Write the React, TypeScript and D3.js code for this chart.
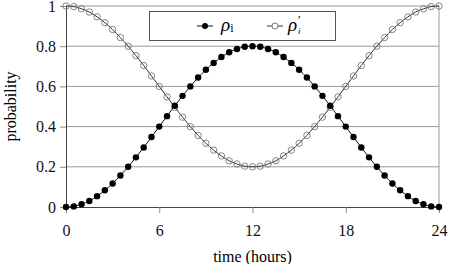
import React, { useEffect, useRef } from "react";
import * as d3 from "d3";

// time axis, in hours (half-hour samples)
const hours = [
  0, 0.5, 1, 1.5, 2, 2.5, 3, 3.5, 4, 4.5, 5, 5.5, 6, 6.5, 7, 7.5, 8, 8.5, 9,
  9.5, 10, 10.5, 11, 11.5, 12, 12.5, 13, 13.5, 14, 14.5, 15, 15.5, 16, 16.5,
  17, 17.5, 18, 18.5, 19, 19.5, 20, 20.5, 21, 21.5, 22, 22.5, 23, 23.5, 24,
];

// rho_i (filled markers)
const rho = [
  0, 0.003, 0.014, 0.03, 0.054, 0.083, 0.117, 0.157, 0.2, 0.247, 0.296, 0.348,
  0.4, 0.452, 0.504, 0.553, 0.6, 0.644, 0.683, 0.717, 0.746, 0.77, 0.786,
  0.797, 0.8, 0.797, 0.786, 0.77, 0.746, 0.717, 0.683, 0.644, 0.6, 0.553,
  0.504, 0.452, 0.4, 0.348, 0.296, 0.247, 0.2, 0.157, 0.117, 0.083, 0.054,
  0.03, 0.014, 0.003, 0,
];

// rho'_i (open markers)
const rhoPrime = [
  1, 0.997, 0.986, 0.97, 0.946, 0.917, 0.883, 0.843, 0.8, 0.753, 0.704, 0.652,
  0.6, 0.548, 0.496, 0.447, 0.4, 0.356, 0.317, 0.283, 0.254, 0.23, 0.214,
  0.203, 0.2, 0.203, 0.214, 0.23, 0.254, 0.283, 0.317, 0.356, 0.4, 0.447,
  0.496, 0.548, 0.6, 0.652, 0.704, 0.753, 0.8, 0.843, 0.883, 0.917, 0.946,
  0.97, 0.986, 0.997, 1,
];

const xTicks = [0, 6, 12, 18, 24];
const yTicks = [0, 0.2, 0.4, 0.6, 0.8, 1];

const W = 450,
  H = 264;
const FONT = "'Liberation Serif', 'DejaVu Serif', 'Times New Roman', serif";

export default function App() {
  const ref = useRef<SVGSVGElement>(null);

  useEffect(() => {
    const svg = d3.select(ref.current);
    svg.html("");

    const left = 66,
      right = 439,
      top = 6,
      bottom = 207;

    const x = d3.scaleLinear().domain([0, 24]).range([left, right]);
    const y = d3.scaleLinear().domain([0, 1]).range([bottom, top]);

    // horizontal grid
    svg
      .append("g")
      .selectAll("line")
      .data(yTicks.filter((d) => d > 0))
      .join("line")
      .attr("x1", left)
      .attr("x2", right)
      .attr("y1", (d) => y(d))
      .attr("y2", (d) => y(d))
      .attr("stroke", "#9a9a9a")
      .attr("stroke-width", 1);

    // right border
    svg
      .append("line")
      .attr("x1", right)
      .attr("x2", right)
      .attr("y1", top)
      .attr("y2", bottom)
      .attr("stroke", "#9a9a9a");

    const yAxis = d3
      .axisLeft(y)
      .tickValues(yTicks)
      .tickSize(6)
      .tickPadding(4)
      .tickFormat((d) => String(d));
    const ya = svg
      .append("g")
      .attr("transform", `translate(${left},0)`)
      .call(yAxis)
      .attr("font-family", null);
    ya.select(".domain").attr("stroke", "#444");
    ya.selectAll(".tick line").attr("stroke", "#888");
    ya.selectAll("text")
      .style("font-family", FONT)
      .style("font-size", "16px")
      .attr("fill", "#111");

    const xAxis = d3
      .axisBottom(x)
      .tickValues(xTicks)
      .tickSize(6)
      .tickPadding(12)
      .tickFormat((d) => String(d));
    const xa = svg
      .append("g")
      .attr("transform", `translate(0,${bottom})`)
      .call(xAxis)
      .attr("font-family", null);
    xa.select(".domain").attr("stroke", "#444");
    xa.selectAll(".tick line").attr("stroke", "#888");
    xa.selectAll("text")
      .style("font-family", FONT)
      .style("font-size", "16px")
      .attr("fill", "#111");

    // axis titles
    svg
      .append("text")
      .attr("x", (left + right) / 2)
      .attr("y", 262)
      .attr("text-anchor", "middle")
      .style("font-family", FONT)
      .style("font-size", "16px")
      .text("time (hours)");
    svg
      .append("text")
      .attr("transform", `translate(16,${(top + bottom) / 2}) rotate(-90)`)
      .attr("text-anchor", "middle")
      .style("font-family", FONT)
      .style("font-size", "16px")
      .text("probability");

    const line = (vals: number[]) =>
      d3
        .line<number>()
        .x((_, i) => x(hours[i]))
        .y((d) => y(d))
        .curve(d3.curveMonotoneX)(vals);

    // rho'_i : open circles
    svg
      .append("path")
      .attr("d", line(rhoPrime))
      .attr("fill", "none")
      .attr("stroke", "#333")
      .attr("stroke-width", 1);
    svg
      .append("g")
      .selectAll("circle")
      .data(rhoPrime)
      .join("circle")
      .attr("cx", (_, i) => x(hours[i]))
      .attr("cy", (d) => y(d))
      .attr("r", 3.2)
      .attr("fill", "none")
      .attr("stroke", "#777")
      .attr("stroke-width", 0.9);

    // rho_i : filled circles
    svg
      .append("path")
      .attr("d", line(rho))
      .attr("fill", "none")
      .attr("stroke", "#111")
      .attr("stroke-width", 1);
    svg
      .append("g")
      .selectAll("circle")
      .data(rho)
      .join("circle")
      .attr("cx", (_, i) => x(hours[i]))
      .attr("cy", (d) => y(d))
      .attr("r", 3.2)
      .attr("fill", "#000");

    // legend
    const lg = svg.append("g");
    lg.append("rect")
      .attr("x", 149.5)
      .attr("y", 11.5)
      .attr("width", 186)
      .attr("height", 29)
      .attr("fill", "#fff")
      .attr("stroke", "#555");

    lg.append("line")
      .attr("x1", 197)
      .attr("x2", 213)
      .attr("y1", 26)
      .attr("y2", 26)
      .attr("stroke", "#111");
    lg.append("circle").attr("cx", 205).attr("cy", 26).attr("r", 3).attr("fill", "#000");
    const t1 = lg
      .append("text")
      .attr("x", 221)
      .attr("y", 31)
      .style("font-family", FONT)
      .style("font-size", "19px");
    t1.append("tspan").attr("font-style", "italic").text("ρ");
    t1.append("tspan").style("font-size", "12px").attr("dy", 1).text("i");

    lg.append("line")
      .attr("x1", 267)
      .attr("x2", 283)
      .attr("y1", 26)
      .attr("y2", 26)
      .attr("stroke", "#333");
    lg.append("circle")
      .attr("cx", 275)
      .attr("cy", 26)
      .attr("r", 3)
      .attr("fill", "#fff")
      .attr("stroke", "#777");

    // rho'_i label: base glyph, then prime and subscript stacked after it
    lg.append("text")
      .attr("x", 288)
      .attr("y", 31)
      .style("font-family", FONT)
      .style("font-size", "19px")
      .attr("font-style", "italic")
      .text("ρ");
    lg.append("text")
      .attr("x", 298)
      .attr("y", 24)
      .style("font-family", FONT)
      .style("font-size", "12px")
      .text("′");
    lg.append("text")
      .attr("x", 298)
      .attr("y", 34)
      .style("font-family", FONT)
      .style("font-size", "9px")
      .attr("font-style", "italic")
      .text("i");
  }, []);

  return (
    <svg
      ref={ref}
      width={W}
      height={H}
      style={{ position: "absolute", left: 0, top: 0, background: "#fff" }}
    />
  );
}
